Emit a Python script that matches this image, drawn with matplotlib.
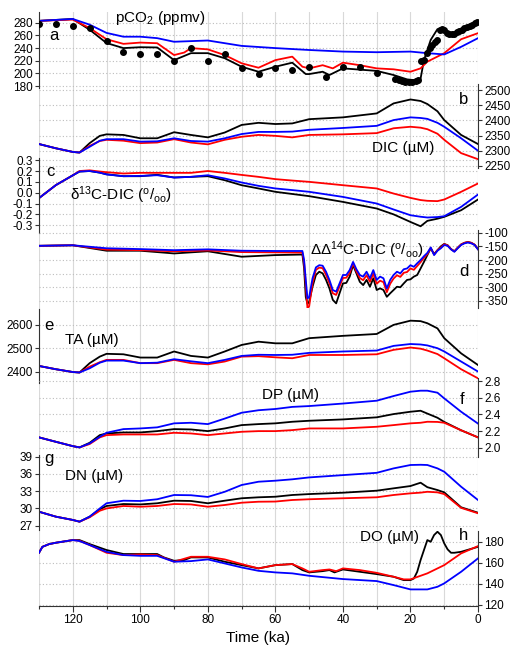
import numpy as np
import matplotlib
matplotlib.use("Agg")
import matplotlib.pyplot as plt
from matplotlib.ticker import FormatStrFormatter, MultipleLocator

plt.rcParams['font.family'] = ['Liberation Sans', 'DejaVu Sans']
plt.rcParams['mathtext.fontset'] = 'custom'
plt.rcParams['mathtext.rm'] = 'Liberation Sans'
plt.rcParams['mathtext.it'] = 'Liberation Sans:italic'
plt.rcParams['mathtext.default'] = 'regular'
plt.rcParams['axes.unicode_minus'] = False

# ---------------- data ----------------
# (a) pCO2
a_red_t = [130, 120, 115, 110, 105, 100, 95, 90, 87, 85, 80, 75, 70, 65, 60, 55, 52, 50, 46, 43, 40, 35, 30, 25, 20, 17, 15, 10, 5, 0]
a_red = [283, 285, 271.6, 254, 246.7, 248.7, 247.7, 229, 233, 240, 238, 229, 216, 209, 221, 226.5, 210.6, 208, 213, 208, 217, 213, 208, 206.5, 202.7, 208, 218.6, 232, 254, 263.6]
a_blk_t = [130, 120, 115, 110, 105, 100, 95, 90, 85, 80, 75, 70, 65, 60, 55, 51, 50, 46, 44, 40, 30, 25, 21, 19, 17, 16, 14, 12, 10, 8, 6, 4, 2, 0]
a_blk = [283, 286, 269, 248, 240, 241.4, 241, 221, 232, 232, 224, 210.6, 202.7, 210.6, 217, 199, 199, 202.7, 197.5, 208, 204, 197.5, 190.6, 189.5, 192, 221, 253, 270, 266, 261, 262, 269, 274, 278.6]
a_blu_t = [130, 120, 115, 110, 105, 100, 95, 90, 80, 70, 60, 50, 40, 30, 20, 15, 10, 5, 0]
a_blu = [283, 286, 277, 264, 258, 258, 255.7, 250, 252, 243.5, 240, 237, 234.5, 233.5, 234.5, 232, 230, 242, 255.7]
ice_t = [130, 125, 120, 115, 110, 105, 100, 95, 90, 85, 80, 75, 70, 65, 60, 55, 50, 45, 40, 35, 30,
         24.6, 23.5, 22.5, 21.5, 20.5, 19.5, 18.5, 17.8, 16.8, 16, 15, 14.2, 13.5, 12.8, 12, 11.3, 10.7, 10, 9.3,
         8.5, 7.7, 7, 6.2, 5.5, 4.8, 4, 3.2, 2.5, 1.7, 1, 0.3]
ice_co2 = [278.4, 278.4, 275, 271.5, 251.4, 233.5, 230.8, 230.8, 220.2, 240.8, 220.2, 230.8, 208, 198.5, 209, 205.4, 210.6, 193.8,
           210.6, 210.6, 201,
           192, 190, 188, 187, 186.5, 187, 188, 190, 220, 222, 232, 240, 245, 250, 253, 268, 270, 268, 264,
           262, 262, 263, 265, 267, 269, 271, 273, 275, 277, 279, 281]

# common time axis for b, c, e, f, g
t = [130, 125, 120, 118, 115, 112, 110, 105, 100, 95, 90, 85, 80, 75, 70, 65, 60, 55, 50, 40, 30, 25, 20, 17, 15, 12, 10, 5, 0]

# (b) DIC
dic_blu = [2322, 2308, 2296, 2294, 2313, 2333, 2338, 2338, 2330, 2331, 2341, 2332, 2330, 2341, 2355, 2362, 2362, 2363, 2369, 2375, 2382, 2401, 2410, 2408, 2405, 2392, 2379, 2341, 2300]
dic_blk = [2322, 2308, 2296, 2294, 2325, 2349, 2354, 2352, 2341, 2341, 2361, 2352, 2344, 2360, 2385, 2392, 2388, 2390, 2404, 2410, 2423, 2456, 2469, 2464, 2454, 2430, 2401, 2352, 2322]
dic_red = [2322, 2308, 2296, 2294, 2316, 2332, 2336, 2333, 2325, 2327, 2338, 2327, 2321, 2336, 2346, 2352, 2349, 2344, 2352, 2354, 2358, 2374, 2379, 2376, 2371, 2356, 2336, 2292, 2272]

# (c) d13C-DIC
c13_blu = [-0.05, 0.07, 0.16, 0.195, 0.20, 0.185, 0.168, 0.152, 0.155, 0.161, 0.14, 0.146, 0.161, 0.131, 0.094, 0.063, 0.039, 0.024, 0.008, -0.039, -0.10, -0.155, -0.208, -0.222, -0.229, -0.225, -0.217, -0.131, -0.017]
c13_blk = [-0.05, 0.07, 0.16, 0.195, 0.20, 0.185, 0.17, 0.152, 0.152, 0.165, 0.14, 0.146, 0.152, 0.115, 0.069, 0.039, 0.008, -0.012, -0.032, -0.085, -0.146, -0.20, -0.27, -0.31, -0.26, -0.24, -0.223, -0.162, -0.063]
c13_red = [-0.05, 0.07, 0.16, 0.20, 0.206, 0.195, 0.189, 0.177, 0.183, 0.183, 0.183, 0.183, 0.20, 0.183, 0.164, 0.146, 0.125, 0.112, 0.10, 0.069, 0.039, -0.008, -0.048, -0.068, -0.075, -0.078, -0.063, 0.008, 0.085]

# (d) DD14C-DIC
td = [130, 120, 110, 100, 90, 80, 70, 60, 52, 51.5, 51, 50.5, 50, 49, 48, 47, 46, 45, 44, 43, 42, 41, 40, 39, 38, 37, 36, 35, 34, 33,
      32, 31, 30, 29, 28, 27, 26, 25, 24, 23, 22, 21, 20, 19, 18, 17, 16, 15, 14, 13, 12, 11, 10, 9, 8, 7, 6, 5, 4, 3, 2, 1, 0]
c14_blu = [-148, -146, -157, -160, -164, -161, -166, -167, -167, -200, -273, -341, -336, -267, -227, -219, -221, -243, -273, -310,
           -316, -286, -255, -255, -237, -207, -234, -255, -261, -243, -267, -237, -273, -261, -267, -304, -273, -255, -243, -249,
           -234, -231, -219, -225, -212, -200, -186, -174, -154, -182, -166, -157, -145, -148, -161, -170, -157, -145, -139, -136,
           -139, -145, -161]
c14_red = [-148, -146, -162, -164, -168, -165, -171, -172, -173, -210, -290, -377, -370, -285, -236, -228, -230, -255, -285, -322,
           -328, -297, -266, -265, -248, -212, -242, -266, -274, -256, -280, -250, -287, -276, -281, -318, -287, -268, -256, -262,
           -247, -244, -231, -236, -222, -208, -192, -178, -156, -180, -164, -154, -142, -146, -160, -168, -155, -143, -137, -134,
           -137, -144, -160]
c14_blk = [-148, -146, -166, -166, -176, -168, -188, -182, -180, -230, -336, -361, -353, -298, -255, -243, -249, -273, -304, -346,
           -359, -322, -286, -284, -261, -219, -249, -280, -292, -273, -298, -267, -310, -304, -310, -335, -322, -310, -298, -300,
           -286, -273, -271, -261, -255, -231, -207, -182, -157, -178, -164, -150, -141, -146, -160, -168, -155, -143, -137, -134,
           -137, -144, -160]

# (e) TA
ta_blu = [2424, 2410, 2398, 2396, 2414, 2438, 2447, 2447, 2436, 2438, 2453, 2444, 2436, 2450, 2467, 2472, 2471, 2472, 2480, 2486, 2490, 2510, 2518, 2516, 2512, 2500, 2486, 2443, 2400]
ta_blk = [2424, 2410, 2398, 2396, 2436, 2464, 2476, 2474, 2460, 2460, 2486, 2467, 2460, 2486, 2514, 2528, 2521, 2521, 2543, 2553, 2561, 2600, 2618, 2616, 2607, 2585, 2543, 2478, 2428]
ta_red = [2424, 2410, 2398, 2396, 2421, 2440, 2450, 2450, 2436, 2436, 2450, 2436, 2431, 2443, 2464, 2466, 2461, 2457, 2471, 2471, 2474, 2493, 2503, 2498, 2490, 2475, 2457, 2410, 2371]

# (f) DP
dp_blu = [2.125, 2.072, 2.02, 2.005, 2.053, 2.132, 2.18, 2.224, 2.232, 2.245, 2.293, 2.30, 2.284, 2.35, 2.42, 2.45, 2.465, 2.49, 2.50, 2.53, 2.564, 2.62, 2.672, 2.684, 2.684, 2.66, 2.592, 2.432, 2.29]
dp_blk = [2.125, 2.072, 2.02, 2.005, 2.06, 2.152, 2.172, 2.184, 2.184, 2.20, 2.224, 2.22, 2.20, 2.232, 2.272, 2.284, 2.293, 2.312, 2.324, 2.34, 2.365, 2.404, 2.432, 2.444, 2.41, 2.36, 2.31, 2.21, 2.125]
dp_red = [2.125, 2.072, 2.02, 2.005, 2.045, 2.125, 2.152, 2.16, 2.16, 2.16, 2.18, 2.172, 2.152, 2.172, 2.192, 2.20, 2.20, 2.212, 2.232, 2.232, 2.252, 2.272, 2.293, 2.30, 2.312, 2.31, 2.30, 2.21, 2.125]

# (g) DN
dn_blu = [29.43, 28.57, 28.0, 27.7, 28.57, 30.0, 30.9, 31.35, 31.3, 31.6, 32.34, 32.3, 32.0, 32.9, 34.08, 34.65, 34.83, 35.07, 35.4, 35.8, 36.2, 36.97, 37.56, 37.6, 37.56, 36.97, 36.39, 33.78, 31.47]
dn_blk = [29.43, 28.57, 28.0, 27.7, 28.57, 29.85, 30.43, 30.77, 30.7, 30.9, 31.35, 31.3, 30.9, 31.35, 31.77, 31.94, 32.04, 32.34, 32.5, 32.74, 33.09, 33.5, 33.9, 34.48, 33.7, 33.2, 32.8, 30.2, 29.26]
dn_red = [29.43, 28.57, 28.0, 27.7, 28.46, 29.6, 30.0, 30.43, 30.3, 30.43, 30.77, 30.7, 30.3, 30.6, 31.0, 31.17, 31.2, 31.47, 31.6, 31.77, 31.94, 32.34, 32.63, 32.75, 32.9, 32.8, 32.5, 30.1, 29.16]

# (h) DO
h_blk_t = [130, 129, 127, 125, 120, 118, 115, 110, 105, 100, 95, 93, 90, 87, 85, 80, 75, 70, 65, 60, 55, 52, 50, 46, 44, 42.5, 40,
           35, 30, 25, 22, 20, 19, 18, 17, 16, 15, 14, 13, 12, 11, 10, 9, 8, 7, 5, 0]
do_blk = [169.4, 175, 177.6, 178.9, 181.4, 181.4, 177.6, 172, 168.2, 168.2, 168.2, 165, 161.8, 162.5, 165, 165, 160.9, 157.7, 154.6,
          157.7, 158.7, 153, 150.8, 152, 153, 150.8, 153.6, 151.4, 149.2, 146.7, 143.5, 143.5, 145, 151.4, 162.5, 172, 181.4,
          179.8, 186.2, 189.3, 186.2, 178.3, 172.6, 169.4, 169.4, 170.3, 175]
h_blu_t = [130, 129, 127, 125, 120, 118, 115, 110, 105, 100, 95, 90, 85, 80, 75, 70, 65, 60, 55, 50, 40, 30, 25, 20, 15, 12, 10, 5, 0]
do_blu = [169.4, 175, 177.6, 178.9, 181.4, 180.5, 176.7, 170.3, 167.2, 166.5, 166.5, 160.9, 161.5, 163.1, 159.3, 155.5, 152.3, 150.8,
          149.9, 147.6, 144.5, 142.6, 138.8, 134.7, 134.7, 137.2, 140.4, 151.4, 164.1]
h_red_t = [130, 129, 127, 125, 120, 118, 115, 110, 105, 100, 95, 90, 85, 80, 75, 70, 65, 60, 55, 52, 50, 46, 44, 42, 40, 35, 30, 25,
           22, 20, 15, 10, 5, 0]
do_red = [169.4, 175, 177.6, 178.9, 181.4, 180.8, 176.7, 169.4, 167.2, 167.8, 167.2, 160.9, 165.6, 165.6, 163.1, 158.7, 154.6, 157.7,
          158.7, 154.6, 151.4, 153, 153.6, 152, 154.6, 153, 150.4, 146.7, 144.2, 144.2, 149.9, 157.7, 168.8, 175.7]

# ---------------- figure ----------------
W, H = 511, 645
fig = plt.figure(figsize=(W / 100, H / 100), dpi=100)
X0, X1 = 39, 478
BLUE, RED, BLACK = '#0000ff', '#ff0000', '#000000'
LW = 1.3


def px(x, y):
    return x / W, 1 - y / H


# background axes for vertical grid lines
bg = fig.add_axes([X0 / W, 1 - 606 / H, (X1 - X0) / W, (606 - 12) / H])
bg.set_xlim(130, 0)
bg.set_ylim(0, 1)
bg.axis('off')
for xv in range(0, 131, 10):
    bg.axvline(xv, color='#d9d9d9', lw=0.8, zorder=0)


def panel(top, bot, side, ylim, ticks, fmt=None):
    ax = fig.add_axes([X0 / W, 1 - bot / H, (X1 - X0) / W, (bot - top) / H])
    ax.patch.set_alpha(0)
    for s in ['top', 'bottom', 'left', 'right']:
        ax.spines[s].set_visible(False)
    ax.spines[side].set_visible(True)
    ax.spines[side].set_color('#333333')
    ax.spines[side].set_linewidth(0.8)
    ax.set_xlim(130, 0)
    ax.set_xticks([])
    ax.set_ylim(*ylim)
    ax.set_yticks(ticks)
    if fmt:
        ax.yaxis.set_major_formatter(FormatStrFormatter(fmt))
    ax.yaxis.set_ticks_position(side)
    ax.tick_params(axis='y', direction='out', length=3, width=0.8, labelsize=8.5, pad=1.5, color='#333333')
    ax.grid(axis='y', color='#bdbdbd', ls=(0, (1, 2)), lw=0.8)
    return ax


def three(ax, tb, yb, tr, yr, tk, yk):
    ax.plot(tk, yk, color=BLACK, lw=LW)
    ax.plot(tr, yr, color=RED, lw=LW)
    ax.plot(tb, yb, color=BLUE, lw=LW)


# a
ax = panel(12, 88, 'left', (177, 297), np.arange(180, 281, 20))
three(ax, a_blu_t, a_blu, a_red_t, a_red, a_blk_t, a_blk)
ax.plot(ice_t, ice_co2, 'o', color=BLACK, ms=4, zorder=5)

# b
ax = panel(84, 168, 'right', (2243, 2520), np.arange(2250, 2501, 50))
three(ax, t, dic_blu, t, dic_red, t, dic_blk)

# c
ax = panel(158, 233, 'left', (-0.372, 0.32), np.arange(-0.3, 0.31, 0.1), '%.1f')
three(ax, t, c13_blu, t, c13_red, t, c13_blk)

# d
ax = panel(230, 308, 'right', (-376, -90), np.arange(-350, -99, 50))
three(ax, td, c14_blu, td, c14_red, td, c14_blk)

# e
ax = panel(309, 383, 'left', (2351, 2668), [2400, 2500, 2600])
three(ax, t, ta_blu, t, ta_red, t, ta_blk)

# f
ax = panel(378, 457, 'right', (1.89, 2.836), np.arange(2.0, 2.81, 0.2), '%.1f')
three(ax, t, dp_blu, t, dp_red, t, dp_blk)

# g
ax = panel(455, 530, 'left', (26.25, 39.3), np.arange(27, 40, 3))
three(ax, t, dn_blu, t, dn_red, t, dn_blk)

# h
ax = panel(531, 606, 'right', (119, 190), np.arange(120, 181, 20))
three(ax, h_blu_t, do_blu, h_red_t, do_red, h_blk_t, do_blk)
ax.spines['bottom'].set_visible(True)
ax.spines['bottom'].set_color('#333333')
ax.spines['bottom'].set_linewidth(0.8)
ax.set_xticks(np.arange(0, 121, 20))
ax.xaxis.set_minor_locator(MultipleLocator(10))
ax.tick_params(axis='x', which='major', direction='out', length=4, width=0.8, labelsize=8.5, pad=2, color='#333333')
ax.tick_params(axis='x', which='minor', direction='out', length=2.5, width=0.8, color='#333333')
ax.set_xlim(130, 0)

# texts
fs_lab = 11
fs_let = 12
fig.text(*px(115, 18), r'pCO$_2$ (ppmv)', fontsize=fs_lab, va='center', ha='left')
fig.text(*px(49, 36), 'a', fontsize=fs_let, va='center')
fig.text(*px(459, 99), 'b', fontsize=fs_let, va='center')
fig.text(*px(372, 148), 'DIC (µM)', fontsize=fs_lab, va='center')
fig.text(*px(46, 172), 'c', fontsize=fs_let, va='center')
fig.text(*px(70, 195), r'$\delta^{13}$C-DIC ($^{o}$/$_{oo}$)', fontsize=fs_lab, va='center')
fig.text(*px(310, 250), r'$\Delta\Delta^{14}$C-DIC ($^{o}$/$_{oo}$)', fontsize=fs_lab, va='center')
fig.text(*px(459, 272), 'd', fontsize=fs_let, va='center')
fig.text(*px(44, 325), 'e', fontsize=fs_let, va='center')
fig.text(*px(65, 340), 'TA (µM)', fontsize=fs_lab, va='center')
fig.text(*px(262, 395), 'DP (µM)', fontsize=fs_lab, va='center')
fig.text(*px(460, 399), 'f', fontsize=fs_let, va='center')
fig.text(*px(44, 458), 'g', fontsize=fs_let, va='center')
fig.text(*px(65, 476), 'DN (µM)', fontsize=fs_lab, va='center')
fig.text(*px(360, 537), 'DO (µM)', fontsize=fs_lab, va='center')
fig.text(*px(459, 536), 'h', fontsize=fs_let, va='center')
fig.text(*px(258, 638), 'Time (ka)', fontsize=fs_lab, va='center', ha='center')

fig.savefig('out.png', dpi=100)
